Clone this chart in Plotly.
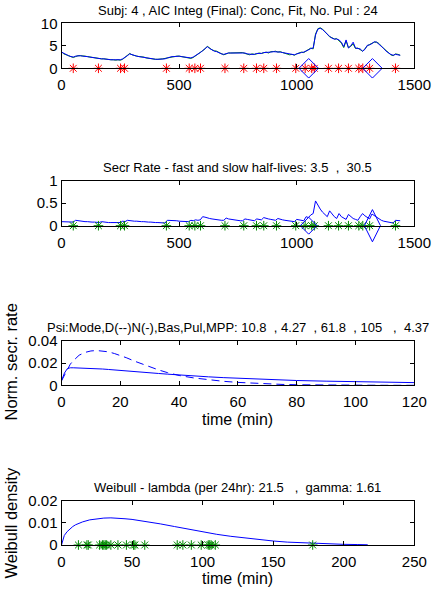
import plotly.graph_objects as go

FONT = "Liberation Sans, Arial, Helvetica, sans-serif"
NB = "\u00a0"

# ---------------- data ----------------
conc_time = list(range(0, 1441, 10))
conc_data = [
    3.7, 3.2, 3.0, 2.8, 2.6, 2.4,
    2.6, 2.8, 2.8, 2.8, 2.7, 2.6,
    2.5, 2.4, 2.3, 2.2, 2.1, 2.1,
    2.1, 2.0, 2.0, 1.9, 1.9, 1.8,
    1.9, 1.8, 2.0, 2.4, 2.9, 3.3,
    3.0, 2.8, 2.7, 2.6, 2.6, 2.5,
    2.3, 2.2, 2.2, 2.1, 2.0, 2.0,
    2.0, 2.1, 2.2, 2.3, 2.5, 2.6,
    2.7, 2.7, 2.7, 2.6, 2.5, 2.4,
    2.3, 2.2, 2.4, 2.8, 3.2, 3.5,
    3.8, 4.3, 4.9, 4.4, 4.1, 3.9,
    3.8, 3.5, 3.2, 3.0, 3.2, 3.4,
    3.4, 3.4, 3.5, 3.4, 3.4, 3.5,
    3.3, 3.1, 3.0, 3.2, 3.1, 3.2,
    3.4, 3.3, 3.5, 3.6, 3.4, 3.7,
    3.7, 3.8, 3.6, 3.7, 3.5, 3.3,
    3.2, 3.0, 3.1, 2.9, 3.2, 3.4,
    3.6, 3.5, 3.8, 4.2, 4.5, 4.3,
    7.6, 8.8, 9.0, 8.7, 8.2, 7.6,
    7.0, 6.8, 6.5, 6.6, 6.2, 5.6,
    4.6, 6.1, 4.6, 4.9, 5.4, 4.4,
    4.5, 4.1, 3.8, 4.3, 5.0, 5.3,
    5.6, 5.8, 5.8, 5.5, 4.9, 4.4,
    3.9, 3.5, 3.0, 2.8, 3.2, 3.1,
    2.9,
]
conc_fit = [
    3.6, 3.3, 3.0, 2.8, 2.6, 2.5,
    2.7, 2.8, 2.8, 2.7, 2.7, 2.6,
    2.5, 2.4, 2.3, 2.2, 2.2, 2.1,
    2.1, 2.0, 2.0, 1.9, 1.9, 1.9,
    1.8, 1.9, 2.1, 2.4, 2.8, 3.2,
    3.0, 2.8, 2.7, 2.6, 2.5, 2.4,
    2.3, 2.3, 2.2, 2.1, 2.0, 2.0,
    2.0, 2.0, 2.1, 2.3, 2.5, 2.6,
    2.6, 2.7, 2.7, 2.6, 2.5, 2.4,
    2.3, 2.3, 2.5, 2.8, 3.1, 3.5,
    3.9, 4.4, 4.8, 4.4, 4.0, 3.8,
    3.7, 3.4, 3.2, 3.1, 3.3, 3.4,
    3.4, 3.4, 3.4, 3.4, 3.3, 3.4,
    3.4, 3.2, 3.1, 3.1, 3.1, 3.3,
    3.3, 3.3, 3.5, 3.5, 3.5, 3.6,
    3.7, 3.7, 3.7, 3.6, 3.5, 3.4,
    3.2, 3.1, 3.0, 3.0, 3.2, 3.4,
    3.5, 3.6, 3.8, 4.1, 4.4, 4.5,
    7.4, 8.7, 8.9, 8.6, 8.1, 7.5,
    7.1, 6.7, 6.5, 6.5, 6.3, 5.8,
    4.8, 6.3, 4.5, 5.0, 5.8, 4.5,
    4.4, 4.3, 3.8, 4.2, 5.1, 5.2,
    5.5, 5.9, 5.8, 5.4, 5.0, 4.4,
    3.8, 3.4, 3.1, 2.9, 3.1, 3.0,
    2.9,
]
pulse_times = [50, 157, 251, 268, 446, 543, 567, 591, 695, 775, 829, 860,
               914, 996, 1036, 1064, 1075, 1135, 1178, 1220, 1264, 1281, 1310, 1420]
diamond_times = [1051, 1322]
diamond_vals = [0, 0]

secr_rate = [
    0.09, 0.09, 0.09, 0.08, 0.08, 0.08,
    0.12, 0.11, 0.10, 0.10, 0.09, 0.09,
    0.08, 0.08, 0.08, 0.07, 0.07, 0.09,
    0.08, 0.08, 0.07, 0.07, 0.07, 0.07,
    0.07, 0.07, 0.10, 0.09, 0.12, 0.11,
    0.11, 0.10, 0.10, 0.09, 0.09, 0.09,
    0.08, 0.08, 0.08, 0.07, 0.07, 0.07,
    0.07, 0.07, 0.06, 0.12, 0.12, 0.11,
    0.11, 0.11, 0.10, 0.10, 0.10, 0.09,
    0.09, 0.12, 0.11, 0.13, 0.12, 0.13,
    0.20, 0.19, 0.17, 0.16, 0.15, 0.14,
    0.13, 0.13, 0.12, 0.12, 0.17, 0.15,
    0.14, 0.13, 0.12, 0.12, 0.11, 0.11,
    0.15, 0.14, 0.13, 0.12, 0.11, 0.15,
    0.14, 0.13, 0.18, 0.16, 0.15, 0.14,
    0.13, 0.12, 0.16, 0.14, 0.13, 0.12,
    0.11, 0.10, 0.10, 0.09, 0.14, 0.13,
    0.12, 0.11, 0.20, 0.18, 0.24, 0.27,
    0.55, 0.45, 0.37, 0.30, 0.24, 0.20,
    0.33, 0.26, 0.20, 0.16, 0.27, 0.20,
    0.16, 0.14, 0.25, 0.20, 0.16, 0.14,
    0.12, 0.20, 0.27, 0.22, 0.18, 0.15,
    0.26, 0.22, 0.18, 0.15, 0.12, 0.10,
    0.09, 0.08, 0.07, 0.06, 0.12, 0.11,
    0.11,
]

psi_time = [0, 1, 2, 3, 4, 6, 8, 10, 12, 14, 16, 18, 20, 22, 25, 28, 30, 33, 36,
            40, 45, 50, 55, 60, 65, 70, 75, 80, 90, 100, 110, 120]
psi_N = [0.004, 0.011, 0.015, 0.0157, 0.0157, 0.0156, 0.0155, 0.0153, 0.0150, 0.0146,
         0.0142, 0.0137, 0.0133, 0.0128, 0.0122, 0.0116, 0.0112, 0.0106, 0.0100,
         0.0092, 0.0084, 0.0076, 0.0069, 0.0063, 0.0057, 0.0052, 0.0047, 0.0043,
         0.0037, 0.0032, 0.0028, 0.0024]
psi_D = [0.004, 0.009, 0.014, 0.019, 0.022, 0.027, 0.0295, 0.0308, 0.0312, 0.0309,
         0.0300, 0.0285, 0.0268, 0.0248, 0.0215, 0.0185, 0.0166, 0.0138, 0.0114,
         0.0088, 0.0066, 0.0049, 0.0036, 0.0026, 0.0018, 0.0012, 0.0008, 0.0005,
         0.0002, 0.0001, 0.0, 0.0]

weib_time = [0, 1, 2, 4, 6, 8, 10, 15, 20, 25, 30, 35, 40, 45, 50, 60, 70, 80, 90,
             100, 110, 120, 130, 140, 150, 160, 170, 180, 190, 200, 210, 217]
weib_density = [0.0, 0.0028, 0.0043, 0.0060, 0.0073, 0.0083, 0.0091, 0.0104, 0.0113,
                0.0118, 0.0121, 0.0122, 0.0121, 0.0118, 0.0115, 0.0106, 0.0095,
                0.0083, 0.0071, 0.0059, 0.0048, 0.0039, 0.0031, 0.0024, 0.0018,
                0.0013, 0.0010, 0.0007, 0.0005, 0.0003, 0.0002, 0.0001]
interpulse = [12, 18, 19, 27, 29, 30, 31, 32, 35, 40, 46, 51, 52, 59, 82, 86, 92,
              99, 104, 105, 106, 109, 178]

titles = [
    "Subj: 4 , AIC Integ (Final): Conc, Fit, No. Pul : 24",
    "Secr Rate - fast and slow half-lives: 3.5" + NB * 2 + "," + NB * 2 + "30.5",
    "Psi:Mode,D(--)N(-),Bas,Pul,MPP: 10.8" + NB * 2 + ", 4.27" + NB * 2 + ", 61.8"
    + NB * 2 + ", 105" + NB * 3 + "," + NB * 2 + "4.37",
    "Weibull - lambda (per 24hr): 21.5" + NB * 3 + "," + NB * 2 + "gamma: 1.61",
]
x_ticks_long = [0, 500, 1000, 1500]
x_ticks_psi = [0, 20, 40, 60, 80, 100, 120]
x_ticks_weib = [0, 50, 100, 150, 200, 250]
y_ticks = [[0, 5, 10], [0, 0.5, 1], [0, 0.02, 0.04], [0, 0.01, 0.02]]
y_tick_text = [["0", "5", "10"], ["0", "0.5", "1"], ["0", "0.02", "0.04"], ["0", "0.01", "0.02"]]
ylabel_psi = "Norm. secr. rate"
ylabel_weib = "Weibull density"
xlabel = "time (min)"

# ---------------- layout geometry (pixels) ----------------
W, H = 433, 591
x_left, x_right = 61.5, 414.3
panels_px = [(23.3, 68.3), (180.7, 225.7), (340.7, 385.3), (500.5, 545.0)]

def py(p):
    return 1 - p / H

BLUE = "#0000ff"
GREEN = "#008a00"
RED = "#ff0000"

fig = go.Figure()

# panel 1
fig.add_trace(go.Scatter(x=conc_time, y=conc_data, mode="lines",
                         line=dict(color=GREEN, width=1), xaxis="x", yaxis="y"))
fig.add_trace(go.Scatter(x=conc_time, y=conc_fit, mode="lines",
                         line=dict(color=BLUE, width=1), xaxis="x", yaxis="y"))
fig.add_trace(go.Scatter(x=pulse_times, y=[0] * len(pulse_times), mode="markers",
                         marker=dict(symbol="asterisk-open", size=8, color=RED,
                                     line=dict(color=RED, width=1)),
                         cliponaxis=False, xaxis="x", yaxis="y"))
fig.add_trace(go.Scatter(x=diamond_times, y=diamond_vals, mode="markers",
                         marker=dict(symbol="diamond-open", size=15, color=BLUE,
                                     line=dict(color=BLUE, width=1)),
                         cliponaxis=False, xaxis="x", yaxis="y"))

# panel 2
fig.add_trace(go.Scatter(x=conc_time, y=secr_rate, mode="lines",
                         line=dict(color=BLUE, width=1), xaxis="x2", yaxis="y2"))
fig.add_trace(go.Scatter(x=pulse_times, y=[0] * len(pulse_times), mode="markers",
                         marker=dict(symbol="asterisk-open", size=8, color=GREEN,
                                     line=dict(color=GREEN, width=1)),
                         cliponaxis=False, xaxis="x2", yaxis="y2"))
fig.add_trace(go.Scatter(x=diamond_times[:1], y=diamond_vals[:1], mode="markers",
                         marker=dict(symbol="diamond-open", size=13, color=BLUE,
                                     line=dict(color=BLUE, width=1)),
                         cliponaxis=False, xaxis="x2", yaxis="y2"))
fig.add_trace(go.Scatter(x=diamond_times[1:], y=diamond_vals[1:], mode="markers",
                         marker=dict(symbol="diamond-tall-open", size=23, color=BLUE,
                                     line=dict(color=BLUE, width=1)),
                         cliponaxis=False, xaxis="x2", yaxis="y2"))

# panel 3
fig.add_trace(go.Scatter(x=psi_time, y=psi_N, mode="lines",
                         line=dict(color=BLUE, width=1), xaxis="x3", yaxis="y3"))
fig.add_trace(go.Scatter(x=psi_time, y=psi_D, mode="lines",
                         line=dict(color=BLUE, width=1, dash="8px,5px"), xaxis="x3", yaxis="y3"))

# panel 4
fig.add_trace(go.Scatter(x=weib_time, y=weib_density, mode="lines",
                         line=dict(color=BLUE, width=1), xaxis="x4", yaxis="y4"))
fig.add_trace(go.Scatter(x=interpulse, y=[0] * len(interpulse), mode="markers",
                         marker=dict(symbol="asterisk-open", size=8, color=GREEN,
                                     line=dict(color=GREEN, width=1)),
                         cliponaxis=False, xaxis="x4", yaxis="y4"))

axis_common = dict(showline=True, linecolor="black", linewidth=1, mirror="ticks",
                   ticks="inside", ticklen=4, tickcolor="black", showgrid=False,
                   zeroline=False, fixedrange=True, automargin=False,
                   tickfont=dict(family=FONT, size=15, color="black"))

xdom = [x_left / W, x_right / W]
x_ranges = [[0, 1500], [0, 1500], [0, 120], [0, 250]]
x_tickvals = [x_ticks_long, x_ticks_long, x_ticks_psi, x_ticks_weib]
y_ranges = [[0, 10], [0, 1], [0, 0.04], [0, 0.02]]

layout = dict(width=W, height=H,
              margin=dict(l=0, r=0, t=0, b=0, pad=0, autoexpand=False),
              paper_bgcolor="white", plot_bgcolor="white", showlegend=False,
              font=dict(family=FONT, color="black"))
annotations = []
for i in range(4):
    sfx = "" if i == 0 else str(i + 1)
    top, bot = panels_px[i]
    layout["xaxis" + sfx] = dict(axis_common, domain=xdom, range=x_ranges[i],
                                 tickmode="array", tickvals=x_tickvals[i],
                                 ticktext=[str(v) for v in x_tickvals[i]],
                                 ticklabelstandoff=3, anchor="y" + sfx)
    layout["yaxis" + sfx] = dict(axis_common, domain=[py(bot), py(top)], range=y_ranges[i],
                                 tickmode="array", tickvals=y_ticks[i],
                                 ticktext=y_tick_text[i], anchor="x" + sfx)
    annotations.append(dict(text=titles[i], xref="paper", yref="paper",
                            x=(xdom[0] + xdom[1]) / 2, y=py(top - 13.3),
                            xanchor="center", yanchor="middle", showarrow=False,
                            font=dict(family=FONT, size=13, color="black")))

for ycen in (419.5, 578.0):
    annotations.append(dict(text=xlabel, xref="paper", yref="paper",
                            x=(xdom[0] + xdom[1]) / 2, y=py(ycen),
                            xanchor="center", yanchor="middle", showarrow=False,
                            font=dict(family=FONT, size=16, color="black")))
for text, ycen in ((ylabel_psi, 362.0), (ylabel_weib, 523.0)):
    annotations.append(dict(text=text, xref="paper", yref="paper",
                            x=10.5 / W, y=py(ycen), textangle=-90,
                            xanchor="center", yanchor="middle", showarrow=False,
                            font=dict(family=FONT, size=16.5, color="black")))
layout["annotations"] = annotations
fig.update_layout(**layout)

fig.write_html("out.html", config={"displayModeBar": False},
               post_script="document.body.style.margin='0px';document.body.style.overflow='hidden';")
